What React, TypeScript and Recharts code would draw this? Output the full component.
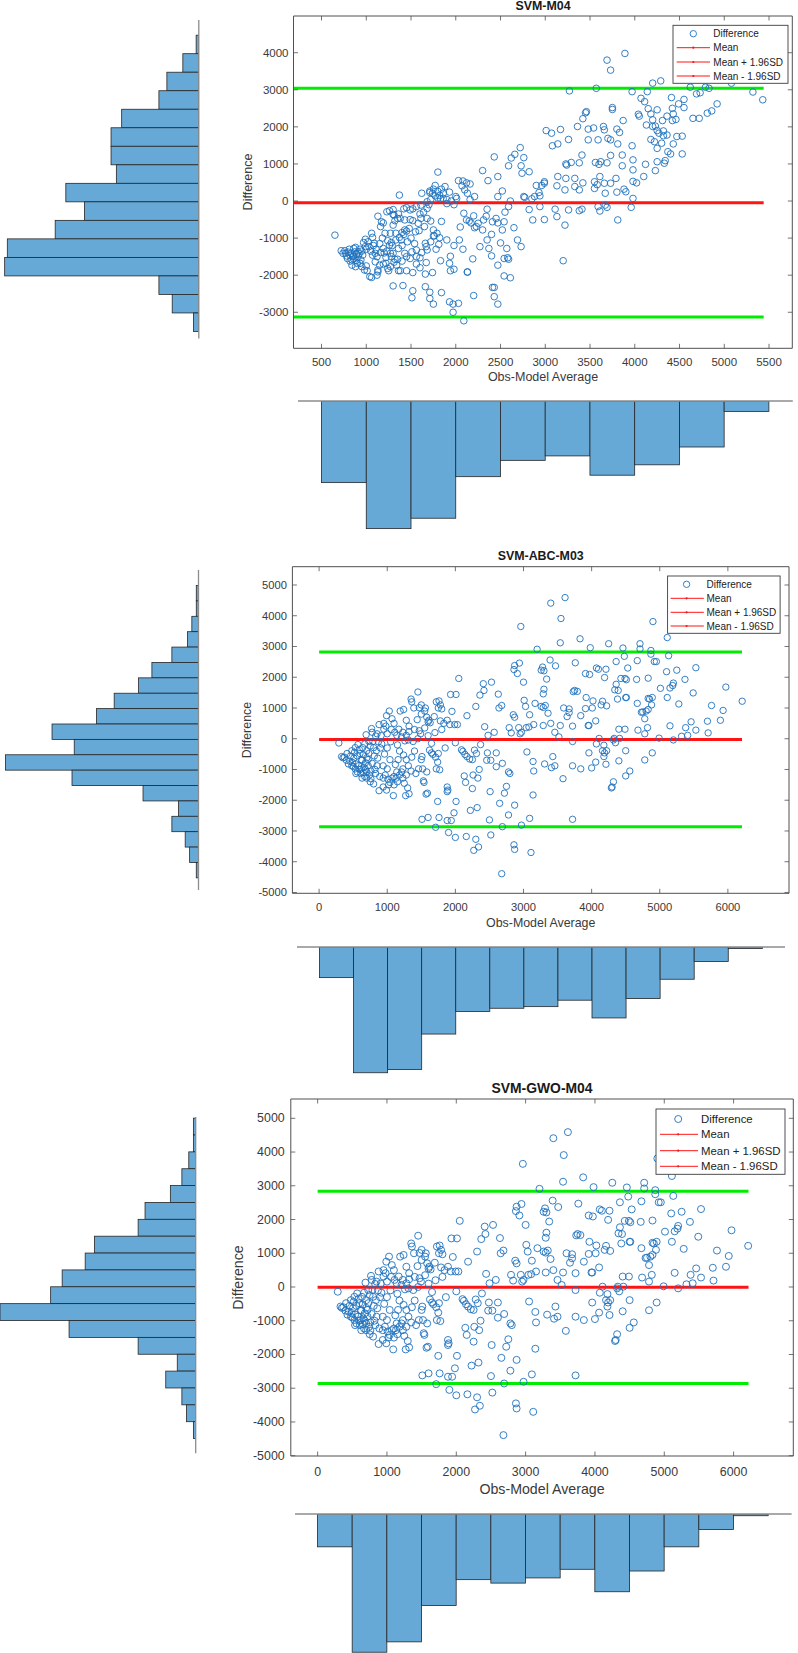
import React from 'react';
import { ScatterChart, Scatter, XAxis, YAxis, ReferenceLine, BarChart, Bar } from 'recharts';

type Pt = [number, number];

const FONT = '"Liberation Sans", Arial, Helvetica, sans-serif';
const TEXT = '#3a3a3a';
const BOX = '#505050';
const BLUE = '#1f72bd';
const GREEN = '#00ec00';
const RED = '#ff1414';
const HIST_FILL = '#66a9d7';
const HIST_EDGE = '#262626';
const HIST_AXIS = '#8c8c8c';

const TITLES = ['SVM-M04', 'SVM-ABC-M03', 'SVM-GWO-M04'];
const X_LABEL = 'Obs-Model Average';
const Y_LABEL = 'Difference';
const LEGEND_LABELS = ['Difference', 'Mean', 'Mean + 1.96SD', 'Mean - 1.96SD'];

// Bland-Altman points: [obs-model average, difference]
const svmM04Points: Pt[] = [
  [3890,3980],[3690,3800],[3730,3530],[3270,2970],[3570,3040],[3970,2950],[4200,3180],[4290,3240],[4140,2950],[4620,3070],
  [4790,3070],[4830,3040],[5080,3180],[5320,2940],[5430,2730],[4070,2770],[4110,2680],[4150,2490],[4250,2460],[4410,2790],
  [4490,2620],[4550,2740],[4690,2890],[4730,2920],[4420,2500],[4550,2520],[4360,2290],[4430,2350],[4460,2200],[4420,2170],
  [4650,2230],[4720,2230],[4920,2620],[4860,2430],[4810,2370],[4310,2170],[4200,2190],[4180,2350],[4040,2340],[4050,2290],
  [4130,2050],[4200,2010],[4230,2020],[4250,1900],[4270,1830],[4320,1890],[4360,1780],[4320,1760],[4470,1740],[4530,1750],
  [4180,1660],[4220,1600],[4250,1420],[4300,1560],[4430,1540],[4370,1330],[4400,1270],[4530,1270],[4340,1090],[4250,1060],
  [4330,1020],[4230,820],[4120,990],[4100,660],[4020,490],[3980,530],[3980,840],[3980,1110],[3970,1490],[3980,70],
  [3960,-170],[3900,250],[3880,320],[3800,1940],[3830,1850],[3870,2170],[3750,2520],[3750,2470],[3450,2380],[3460,2410],
  [3420,2220],[3360,2010],[3540,1970],[3480,1940],[3650,2010],[3660,1920],[3700,1690],[3730,1650],[3810,1540],[3590,1650],
  [3480,1650],[3260,1660],[3170,1930],[3070,1830],[3010,1900],[3080,1490],[3140,1540],[3410,1240],[3730,1230],[3860,1240],
  [3560,1040],[3620,1060],[3690,1030],[3600,990],[3380,1030],[3290,1040],[3240,970],[3230,1000],[3860,950],[3790,610],
  [3730,480],[3610,660],[3550,520],[3580,440],[3660,480],[3550,340],[3670,210],[3800,240],[3420,490],[3330,610],
  [3330,390],[3380,300],[3230,610],[3140,660],[3130,410],[3220,300],[2990,480],[2990,520],[2960,420],[2930,230],
  [2940,140],[2880,120],[2850,60],[2770,100],[2900,420],[3260,-240],[3130,-420],[3220,-650],[3110,-220],[3410,-220],
  [3380,-260],[3690,-170],[3610,-270],[3670,-110],[3590,-150],[3810,-510],[3200,-1610],[2990,-500],[2860,-510],[2940,-150],
  [2820,-230],[2760,120],[2720,1440],[2730,950],[2760,1170],[2740,750],[2820,790],[2660,1260],[2620,1160],[2590,950],
  [2430,1190],[2300,820],[2360,550],[2470,660],[2520,270],[2470,120],[2610,0],[2590,-150],[2350,-220],[2340,-410],
  [2310,-510],[2410,-560],[2450,-470],[2520,-780],[2470,-590],[2540,-560],[2650,-720],[2500,-1130],[2350,-1050],[2370,-1280],
  [2270,-1230],[2300,-780],[2690,-1050],[2730,-1230],[2570,-1280],[2580,-1530],[2540,-1550],[2590,-1570],[2400,-1480],[2470,-1730],
  [2540,-2020],[2610,-2070],[2410,-2330],[2430,-2330],[2430,-2580],[2470,-2780],[2200,-2550],[2190,-1560],[2130,-1910],[2040,-1050],
  [2080,-1300],[2090,-330],[2120,-510],[2150,-540],[2170,-590],[2210,-720],[2230,-690],[2160,40],[2210,120],[2130,210],
  [2100,300],[2070,410],[2120,490],[2160,460],[2080,540],[2030,550],[2000,120],[2010,70],[1900,-70],[1930,240],
  [1880,390],[1840,320],[1800,260],[1770,420],[1740,210],[1710,230],[1770,140],[1800,80],[1830,60],[1860,70],
  [1800,780],[1710,270],[1620,210],[1680,-20],[1610,-110],[1560,-150],[1680,-200],[1520,-210],[1370,160],[1680,-470],
  [1720,-540],[1610,-470],[1650,-690],[1590,-800],[1520,-530],[1490,-500],[1430,-510],[1380,-470],[1360,-350],[1310,-380],
  [1260,-260],[1230,-290],[1300,-230],[1420,-210],[1450,-180],[1490,-240],[1400,-850],[1370,-980],[1430,-780],[1450,-810],
  [1480,-740],[1550,-830],[1750,-780],[1790,-870],[1760,-940],[1820,-990],[1840,-550],[1810,-1170],[1750,-940],[1660,-1140],
  [1720,-1100],[1670,-1230],[1680,-1320],[1560,-1320],[1620,-1390],[1560,-1500],[1600,-1530],[1510,-1370],[1490,-1550],[1430,-1410],
  [1360,-1280],[1290,-1200],[1270,-1410],[1320,-1570],[1360,-1880],[1380,-1880],[1450,-1880],[1520,-1930],[1410,-2280],[1300,-2290],
  [1520,-2420],[1510,-2610],[1660,-2310],[1710,-2460],[1750,-2780],[1710,-2630],[1840,-2470],[1740,-1930],[1660,-1970],[1670,-1660],
  [1830,-1610],[1940,-1490],[1930,-1680],[1940,-1880],[1980,-1840],[2130,-1920],[1930,-2720],[1970,-3000],[1970,-2780],[2030,-2760],
  [2090,-3230],[650,-920],[720,-1340],[740,-1410],[770,-1410],[820,-1460],[790,-1550],[840,-1590],[850,-1500],[870,-1370],
  [890,-1430],[900,-1680],[880,-1770],[910,-1500],[860,-1280],[930,-1300],[950,-1770],[990,-1230],[980,-1860],[990,-1030],
  [1020,-1100],[1030,-1230],[1010,-1880],[1040,-2040],[1060,-2060],[1060,-870],[1070,-980],[1090,-1140],[1100,-1410],[1070,-1460],
  [1100,-1640],[1110,-1300],[1150,-1730],[1130,-1910],[1120,-2000],[1130,-1860],[1160,-1390],[1130,-410],[1170,-560],[1160,-690],
  [1190,-590],[1210,-870],[1190,-1280],[1220,-1520],[1220,-1680],[1240,-1820],[1190,-1700],[1250,-1880],[1270,-1770],[1240,-1070],
  [1260,-1190],[1280,-1120],[1270,-870],[1300,-1410],[1340,-1730],[1350,-1570],[1330,-1050],[1330,-870],[1300,-650],[1300,-360],
  [1320,-530],[1350,-470],[760,-1340],[810,-1300],[830,-1410],[860,-1480],[880,-1250],[910,-1370],[840,-1730],[940,-1590],
  [960,-1460],[930,-1680],[1000,-1750],[780,-1480],[800,-1380],[820,-1620],[860,-1560],[890,-1600],[920,-1420],[950,-1350],
  [970,-1120],[1000,-1300],[1050,-1350],[1080,-1200],[1120,-1500],[1150,-1150],[1180,-1000],[1200,-1400],[1230,-1350],[1280,-1500],
  [1310,-1650],[1390,-1050],[1400,-1200],[1420,-900],[1460,-1100],[1500,-1000],[1540,-1150],[1580,-600],[1600,-350],[1640,-300],
  [1700,-100],[1720,40],[1750,320],[1820,150],[1860,210],[1900,40],[1950,0],[1980,-100],[1560,-1700],[1600,-1800],
  [1400,-1620],[1450,-1500],[1780,-1300],[1900,-1050],[1980,-1200],[2050,-700],[2200,-400],[2250,-600],[2400,-900],[2550,-300],
];

// The ABC and GWO models share this point cloud
const svmAbcPoints: Pt[] = [
  [3610,4590],[3400,4410],[3550,3910],[2960,3650],[4900,3810],[5110,3290],[3540,3120],[3830,3250],[3980,2960],[4250,3090],
  [4460,2950],[4710,3090],[4870,2870],[4870,2750],[4710,2920],[5130,2700],[4920,2510],[4670,2540],[4480,2680],[4360,2510],
  [3200,2910],[3390,2560],[3280,2330],[3300,2210],[3470,2370],[3260,2230],[3760,2470],[2870,2380],[2940,2460],[2910,2120],
  [2860,2250],[3000,1840],[3340,1940],[3910,2120],[3970,2090],[4070,2300],[4100,2260],[4210,2260],[4190,1990],[4430,1960],
  [4490,1960],[4510,1920],[4530,2300],[4660,1930],[4830,1970],[4950,2510],[5100,2180],[5250,2230],[5530,2310],[5370,1930],
  [5200,1810],[5190,1730],[5010,1640],[5150,1650],[5490,1490],[5970,1680],[4360,1770],[4390,1570],[4340,1590],[4500,1340],
  [5110,1340],[5280,1130],[6210,1220],[5760,1080],[5930,920],[5700,570],[5890,600],[5460,550],[5380,360],[5530,280],
  [5710,190],[5410,110],[5320,80],[4990,20],[5200,-40],[5150,420],[4890,-460],[4780,-690],[4820,360],[4780,160],
  [4680,280],[4780,650],[4800,900],[4750,870],[4830,950],[4850,1290],[4830,1310],[4880,1100],[4890,1340],[4670,1150],
  [4730,860],[4510,1340],[4380,1290],[4160,1220],[4220,1070],[4140,1100],[4020,1230],[3920,1340],[4060,580],[3960,430],
  [4400,310],[4490,310],[4330,10],[4350,-130],[4410,10],[4320,-40],[4110,10],[4070,-170],[4180,-210],[4160,-390],
  [4190,-460],[4220,-390],[4180,-580],[4210,-830],[4500,-390],[4400,-720],[4500,-1210],[4560,-1050],[4320,-1400],[4300,-1570],
  [4290,-1600],[4000,-950],[3960,-460],[4060,-760],[3720,-90],[3720,-880],[3840,-980],[3580,-1300],[3720,-2620],[3430,-580],
  [3460,-880],[3410,-940],[3310,-820],[3140,-740],[3150,-1050],[3140,-1830],[3050,-430],[2970,-2810],[3090,-2590],[3110,-3700],
  [2870,-3600],[2860,-3450],[2680,-4390],[2690,-2860],[2780,-2480],[2870,-2160],[2650,-2100],[2720,-1770],[2750,-1550],[2780,-1080],
  [2800,-1130],[2690,-800],[2600,-910],[2520,-700],[2460,-700],[2470,-460],[2600,-460],[2350,-1000],[2330,-1280],[2260,-1180],
  [2130,-1210],[2150,-1420],[2250,-1620],[2510,-1720],[2220,-2330],[2320,-2240],[2160,-3180],[2300,-3270],[2340,-3520],[2270,-3630],
  [2520,-3130],[2500,-2640],[2000,-3210],[1900,-3050],[1940,-2660],[1980,-2410],[2010,-2040],[1880,-2660],[1760,-2560],[1710,-2880],
  [1600,-2560],[1510,-2620],[1740,-2040],[1880,-1570],[1890,-1670],[1880,-1720],[1570,-1800],[1590,-1770],[1540,-1420],[1530,-1370],
  [1580,-1080],[1520,-980],[1460,-980],[1420,-1130],[1310,-880],[1360,-600],[1510,-580],[1500,-680],[1720,-980],[1770,-1010],
  [1740,-760],[1710,-600],[1750,-480],[1620,-370],[1650,-460],[1670,-510],[2000,-130],[2090,-360],[2110,-410],[2140,-510],
  [2170,-580],[2210,-660],[2250,-680],[2280,-370],[2310,-480],[2370,-190],[1320,-1790],[1270,-1850],[1090,-1850],[990,-1670],
  [940,-1570],[880,-1690],[800,-1470],[750,-1400],[890,-1230],[940,-1280],[970,-1180],[1010,-1320],[1040,-1420],[1070,-1280],
  [1100,-1230],[1130,-1280],[1140,-1080],[1180,-1180],[1210,-1080],[1230,-1280],[1280,-1180],[1230,-980],[1280,-680],[1240,-530],
  [1160,-680],[1120,-840],[1040,-680],[1000,-980],[940,-880],[850,-880],[830,-1130],[740,-1180],[700,-1080],[670,-1230],
  [630,-1280],[610,-1130],[560,-1080],[530,-980],[580,-880],[620,-980],[660,-930],[680,-780],[720,-680],[730,-480],
  [700,-390],[640,-290],[670,-170],[690,130],[730,-90],[750,-240],[800,-290],[840,-390],[790,-90],[830,90],
  [780,210],[770,330],[850,160],[880,460],[950,500],[980,410],[950,310],[920,-170],[1000,160],[990,750],
  [1030,900],[1070,650],[1110,210],[1140,110],[1170,310],[1210,60],[1230,210],[1280,110],[1320,230],[1310,-40],
  [1260,-70],[1380,-90],[1190,900],[1240,950],[1280,600],[1320,410],[1350,1290],[1360,1200],[1390,1000],[1450,1520],
  [1470,1010],[1440,620],[1500,800],[1470,260],[1490,160],[1500,1100],[1550,900],[1560,1000],[1580,700],[1610,600],
  [1630,520],[1600,550],[1720,1200],[1760,1230],[1780,1100],[1800,970],[1750,1000],[1780,580],[1690,720],[1830,500],
  [1880,600],[1920,460],[1950,890],[1930,1440],[2010,1440],[1990,460],[2030,460],[2050,1960],[2170,750],[2300,1050],
  [2360,1420],[2420,1570],[2410,1790],[2530,1840],[2430,390],[2480,110],[2570,210],[2630,1450],[2640,1000],[2680,1080],
  [2790,360],[2820,190],[2850,780],[2870,700],[2930,360],[2950,160],[2970,210],[3010,1250],[3030,1050],[3090,780],
  [3040,360],[3080,380],[3150,460],[3170,1150],[3260,1050],[3290,430],[3290,1020],[3320,1080],[3360,830],[3300,1610],
  [3290,1460],[3400,500],[3460,210],[3540,430],[3520,60],[3590,1000],[3670,970],[3640,720],[3670,850],[3720,410],
  [3730,1530],[3750,1570],[3790,1540],[3840,750],[3910,980],[3950,430],[4010,1000],[290,-140],[330,-580],[370,-600],
  [410,-480],[450,-730],[480,-880],[510,-630],[520,-440],[480,-390],[530,-290],[570,-190],[600,-480],[620,-680],
  [350,-620],[400,-700],[430,-820],[460,-560],[490,-770],[540,-820],[560,-560],[590,-350],[630,-700],[650,-520],
  [680,-1000],[700,-620],[720,-880],[760,-1050],[780,-800],[810,-560],[600,-1000],[540,-1130],[500,-900],[650,-1100],
  [700,-1280],[760,-1300],[820,-1000],[860,-630],[900,-300],[870,-100],[910,100],[960,-500],[1000,-300],[1050,-100],
  [1060,300],[1100,500],[1150,-200],[1180,-400],[1020,-1500],[1100,-1500],[1150,-1400],[1250,-1450],[1300,-1600],[1350,-1050],
  [1400,-400],[1450,0],[1400,300],[1550,350],[1600,100],[1650,-150],[1700,200],[1800,300],[1850,-300],
];

// Mean and 95% limits of agreement
const svmM04Limits = { mean: -45, upper: 3040, lower: -3130 };
const svmAbcLimits = { mean: -22, upper: 2820, lower: -2865 };
const svmGwoLimits = { mean: -10, upper: 2840, lower: -2860 };

// Axis ticks
const xTicksM04 = [500, 1000, 1500, 2000, 2500, 3000, 3500, 4000, 4500, 5000, 5500];
const yTicksM04 = [-3000, -2000, -1000, 0, 1000, 2000, 3000, 4000];
const xTicksWide = [0, 1000, 2000, 3000, 4000, 5000, 6000];
const yTicksWide = [-5000, -4000, -3000, -2000, -1000, 0, 1000, 2000, 3000, 4000, 5000];

// Marginal histograms (bin centres and counts)
const m04AvgBins = [750, 1250, 1750, 2250, 2750, 3250, 3750, 4250, 4750, 5250];
const m04AvgCounts = [55, 86, 79, 51, 40, 37, 50, 43, 31, 7];
const m04DiffBins = [4250, 3750, 3250, 2750, 2250, 1750, 1250, 750, 250, -250, -750, -1250, -1750, -2250, -2750, -3250];
const m04DiffCounts = [1, 6, 12, 15, 29, 33, 33, 31, 50, 43, 54, 72, 73, 15, 10, 2];

const wideAvgBins = [250, 750, 1250, 1750, 2250, 2750, 3250, 3750, 4250, 4750, 5250, 5750, 6250];
const wideDiffBins = [4750, 4250, 3750, 3250, 2750, 2250, 1750, 1250, 750, 250, -250, -750, -1250, -1750, -2250, -2750, -3250, -3750, -4250];

const abcAvgCounts = [19, 78, 76, 54, 40, 38, 37, 33, 44, 32, 20, 9, 1];
const abcDiffCounts = [1, 1, 3, 5, 12, 21, 27, 38, 46, 66, 56, 87, 57, 25, 9, 12, 6, 4, 1];
const gwoAvgCounts = [19, 80, 74, 53, 38, 40, 37, 32, 45, 33, 19, 9, 1];
const gwoDiffCounts = [1, 1, 3, 6, 11, 22, 25, 44, 48, 58, 63, 85, 55, 25, 8, 13, 6, 4, 1];

const BIN_WIDTH = 500;

interface Box { left: number; top: number; right: number; bottom: number }
interface ScatterCfg {
  chart: { left: number; top: number; width: number; height: number };
  box: Box;
  points: Pt[];
  limits: { mean: number; upper: number; lower: number };
  lineFrom: number;
  lineTo: number;
  xDomain: [number, number];
  yDomain: [number, number];
  xTicks: number[];
  yTicks: number[];
  tickFont: number;
  gapX: number;
  gapY: number;
  radius: number;
}

const TICK_LEN = 4.5;
// thickness reserved by the top / right frame axes (recharts skips zero-size axes)
const FRAME_AXIS = 1;

const tickText = (fontSize: number) => ({ fontSize, fontFamily: FONT, fill: TEXT });

function ScatterPanel({ cfg }: { cfg: ScatterCfg }) {
  const { chart, box } = cfg;
  const yAxisWidth = box.left - chart.left;
  const marginRight = chart.left + chart.width - box.right - FRAME_AXIS;
  const marginTop = box.top - chart.top - FRAME_AXIS;
  const xAxisHeight = chart.top + chart.height - box.bottom;
  const data = cfg.points.map(([x, y]) => ({ x, y }));
  const tf = tickText(cfg.tickFont);

  const bottomTick = (p: any) => {
    const axisY = p.y - cfg.gapX;
    return (
      <g>
        <line x1={p.x} x2={p.x} y1={axisY} y2={axisY - TICK_LEN} stroke={BOX} strokeWidth={0.8} />
        <text x={p.x} y={p.y} textAnchor="middle" dominantBaseline="central" {...tf}>{p.payload.value}</text>
      </g>
    );
  };
  const topTick = (p: any) => (
    <line x1={p.x} x2={p.x} y1={p.y} y2={p.y + TICK_LEN} stroke={BOX} strokeWidth={0.8} />
  );
  const leftTick = (p: any) => {
    const axisX = p.x + cfg.gapY;
    return (
      <g>
        <line x1={axisX} x2={axisX + TICK_LEN} y1={p.y} y2={p.y} stroke={BOX} strokeWidth={0.8} />
        <text x={p.x} y={p.y} textAnchor="end" dominantBaseline="central" {...tf}>{p.payload.value}</text>
      </g>
    );
  };
  const rightTick = (p: any) => (
    <line x1={p.x} x2={p.x - TICK_LEN} y1={p.y} y2={p.y} stroke={BOX} strokeWidth={0.8} />
  );
  const circle = (p: any) => (
    <circle cx={p.cx} cy={p.cy} r={cfg.radius} fill="none" stroke={BLUE} strokeWidth={0.9} />
  );
  const seg = (y: number) => [{ x: cfg.lineFrom, y }, { x: cfg.lineTo, y }];

  return (
    <div style={{ position: 'absolute', left: chart.left, top: chart.top }}>
      <ScatterChart width={chart.width} height={chart.height}
        margin={{ top: marginTop, right: marginRight, bottom: 0, left: 0 }}>
        <XAxis xAxisId="b" type="number" dataKey="x" domain={cfg.xDomain} ticks={cfg.xTicks} interval={0}
          orientation="bottom" height={xAxisHeight} tickSize={0} tickMargin={cfg.gapX} tick={bottomTick}
          tickLine={false} axisLine={{ stroke: BOX, strokeWidth: 1 }} allowDataOverflow />
        <XAxis xAxisId="t" type="number" dataKey="x" domain={cfg.xDomain} ticks={cfg.xTicks} interval={0}
          orientation="top" height={FRAME_AXIS} tickSize={0} tickMargin={0} tick={topTick}
          tickLine={false} axisLine={{ stroke: BOX, strokeWidth: 1 }} allowDataOverflow />
        <YAxis yAxisId="l" type="number" dataKey="y" domain={cfg.yDomain} ticks={cfg.yTicks} interval={0}
          orientation="left" width={yAxisWidth} tickSize={0} tickMargin={cfg.gapY} tick={leftTick}
          tickLine={false} axisLine={{ stroke: BOX, strokeWidth: 1 }} allowDataOverflow />
        <YAxis yAxisId="r" type="number" dataKey="y" domain={cfg.yDomain} ticks={cfg.yTicks} interval={0}
          orientation="right" width={FRAME_AXIS} tickSize={0} tickMargin={0} tick={rightTick}
          tickLine={false} axisLine={{ stroke: BOX, strokeWidth: 1 }} allowDataOverflow />
        <ReferenceLine xAxisId="b" yAxisId="l" segment={seg(cfg.limits.upper)} stroke={GREEN} strokeWidth={3} ifOverflow="visible" />
        <ReferenceLine xAxisId="b" yAxisId="l" segment={seg(cfg.limits.lower)} stroke={GREEN} strokeWidth={3} ifOverflow="visible" />
        <ReferenceLine xAxisId="b" yAxisId="l" segment={seg(cfg.limits.mean)} stroke={RED} strokeWidth={3} ifOverflow="visible" />
        <Scatter xAxisId="b" yAxisId="l" data={data} shape={circle} isAnimationActive={false} />
      </ScatterChart>
    </div>
  );
}

interface BottomHistCfg {
  baseY: number; left: number; right: number; height: number;
  xDomain: [number, number]; yMax: number; bins: number[]; counts: number[];
}

function BottomHist({ cfg }: { cfg: BottomHistCfg }) {
  const pad = 2;
  const width = cfg.right - cfg.left;
  const binPx = BIN_WIDTH * width / (cfg.xDomain[1] - cfg.xDomain[0]);
  const data = cfg.bins.map((b, i) => ({ bin: b, n: cfg.counts[i] }));
  const shape = (p: any) => {
    const cx = p.x + p.width / 2;
    const y0 = Math.min(p.y, p.y + p.height);
    return <rect x={cx - binPx / 2} y={y0} width={binPx} height={Math.abs(p.height)}
      fill={HIST_FILL} stroke={HIST_EDGE} strokeWidth={0.8} />;
  };
  return (
    <div style={{ position: 'absolute', left: cfg.left - pad, top: cfg.baseY - pad }}>
      <BarChart width={width + 2 * pad} height={cfg.height + 2 * pad} data={data}
        margin={{ top: pad - FRAME_AXIS, right: pad, bottom: pad, left: pad }}>
        <XAxis type="number" dataKey="bin" domain={cfg.xDomain} orientation="top" height={FRAME_AXIS}
          tick={false} tickLine={false} axisLine={{ stroke: HIST_AXIS, strokeWidth: 1.3 }} allowDataOverflow />
        <YAxis type="number" domain={[0, cfg.yMax]} reversed hide allowDataOverflow />
        <Bar dataKey="n" barSize={binPx * 0.5} shape={shape} isAnimationActive={false} />
      </BarChart>
    </div>
  );
}

interface LeftHistCfg {
  baseX: number; top: number; bottom: number; width: number;
  yDomain: [number, number]; xMax: number; bins: number[]; counts: number[];
}

function LeftHist({ cfg }: { cfg: LeftHistCfg }) {
  const pad = 2;
  const height = cfg.bottom - cfg.top;
  const binPx = BIN_WIDTH * height / (cfg.yDomain[1] - cfg.yDomain[0]);
  const data = cfg.bins.map((b, i) => ({ bin: b, n: cfg.counts[i] }));
  const shape = (p: any) => {
    const cy = p.y + p.height / 2;
    const x0 = Math.min(p.x, p.x + p.width);
    return <rect x={x0} y={cy - binPx / 2} width={Math.abs(p.width)} height={binPx}
      fill={HIST_FILL} stroke={HIST_EDGE} strokeWidth={0.8} />;
  };
  return (
    <div style={{ position: 'absolute', left: cfg.baseX - cfg.width - pad, top: cfg.top - pad }}>
      <BarChart layout="vertical" width={cfg.width + 2 * pad} height={height + 2 * pad} data={data}
        margin={{ top: pad, right: pad - FRAME_AXIS, bottom: pad, left: pad }}>
        <XAxis type="number" domain={[0, cfg.xMax]} reversed hide allowDataOverflow />
        <YAxis type="number" dataKey="bin" domain={cfg.yDomain} reversed orientation="right" width={FRAME_AXIS}
          tick={false} tickLine={false} axisLine={{ stroke: HIST_AXIS, strokeWidth: 1.3 }} allowDataOverflow />
        <Bar dataKey="n" barSize={binPx * 0.5} shape={shape} isAnimationActive={false} />
      </BarChart>
    </div>
  );
}

interface TextCfg {
  title: string; titleX: number; titleY: number; titleFont: number;
  yLabelX: number; yLabelY: number; xLabelX: number; xLabelY: number; labelFont: number;
  legend: { left: number; top: number; right: number; bottom: number; lineX1: number; lineX2: number;
    markX: number; textX: number; rows: number[]; font: number; r: number };
}

function PanelText({ t }: { t: TextCfg }) {
  const lg = t.legend;
  return (
    <g fontFamily={FONT}>
      <text x={t.titleX} y={t.titleY} textAnchor="middle" dominantBaseline="central" fontWeight="bold"
        fontSize={t.titleFont} fill="#1a1a1a">{t.title}</text>
      <text x={t.xLabelX} y={t.xLabelY} textAnchor="middle" dominantBaseline="central"
        fontSize={t.labelFont} fill={TEXT}>{X_LABEL}</text>
      <text x={t.yLabelX} y={t.yLabelY} textAnchor="middle" dominantBaseline="central"
        fontSize={t.labelFont} fill={TEXT} transform={`rotate(-90 ${t.yLabelX} ${t.yLabelY})`}>{Y_LABEL}</text>
      <rect x={lg.left} y={lg.top} width={lg.right - lg.left} height={lg.bottom - lg.top}
        fill="#ffffff" stroke="#3c3c3c" strokeWidth={0.9} />
      {LEGEND_LABELS.map((label, i) => (
        <g key={label}>
          {i === 0 ? (
            <circle cx={lg.markX} cy={lg.rows[i]} r={lg.r} fill="none" stroke={BLUE} strokeWidth={0.9} />
          ) : (
            <g>
              <line x1={lg.lineX1} x2={lg.lineX2} y1={lg.rows[i]} y2={lg.rows[i]} stroke={RED} strokeWidth={1} />
              <circle cx={lg.markX} cy={lg.rows[i]} r={1.1} fill={RED} />
            </g>
          )}
          <text x={lg.textX} y={lg.rows[i]} dominantBaseline="central" fontSize={lg.font} fill="#222">{label}</text>
        </g>
      ))}
    </g>
  );
}

const scatterConfigs: ScatterCfg[] = [
  {
    chart: { left: 230, top: 0, width: 568, height: 380 },
    box: { left: 293.5, top: 16, right: 792.3, bottom: 348.3 },
    points: svmM04Points, limits: svmM04Limits, lineFrom: 187, lineTo: 5440,
    xDomain: [187, 5760], yDomain: [-3972, 4990], xTicks: xTicksM04, yTicks: yTicksM04,
    tickFont: 11.5, gapX: 13.4, gapY: 5, radius: 3.3,
  },
  {
    chart: { left: 230, top: 540, width: 568, height: 380 },
    box: { left: 292.4, top: 566.7, right: 789, bottom: 893.3 },
    points: svmAbcPoints, limits: svmAbcLimits, lineFrom: 0, lineTo: 6207,
    xDomain: [-392, 6897], yDomain: [-5027, 5595], xTicks: xTicksWide, yTicks: yTicksWide,
    tickFont: 11.2, gapX: 13.4, gapY: 5.4, radius: 3.2,
  },
  {
    chart: { left: 230, top: 1070, width: 568, height: 410 },
    box: { left: 290.8, top: 1099, right: 793.3, bottom: 1456 },
    points: svmAbcPoints, limits: svmGwoLimits, lineFrom: 0, lineTo: 6215,
    xDomain: [-387, 6861], yDomain: [-5009, 5572], xTicks: xTicksWide, yTicks: yTicksWide,
    tickFont: 12.4, gapX: 15.7, gapY: 6.1, radius: 3.5,
  },
];

const bottomHists: BottomHistCfg[] = [
  { baseY: 401, left: 297.8, right: 792.6, height: 148.4, xDomain: [235, 5765], yMax: 100, bins: m04AvgBins, counts: m04AvgCounts },
  { baseY: 947.3, left: 297.1, right: 785.1, height: 145.1, xDomain: [-323, 6840], yMax: 90, bins: wideAvgBins, counts: abcAvgCounts },
  { baseY: 1514, left: 295.4, right: 792, height: 155.5, xDomain: [-320, 6843], yMax: 90, bins: wideAvgBins, counts: gwoAvgCounts },
];

const leftHists: LeftHistCfg[] = [
  { baseX: 198.7, top: 19.7, bottom: 338.2, width: 196.8, yDomain: [-3700, 4900], xMax: 74, bins: m04DiffBins, counts: m04DiffCounts },
  { baseX: 198.7, top: 569.6, bottom: 889.6, width: 197.5, yDomain: [-4900, 5500], xMax: 89, bins: wideDiffBins, counts: abcDiffCounts },
  { baseX: 195.7, top: 1117, bottom: 1453.3, width: 195.7, yDomain: [-4930, 5040], xMax: 85, bins: wideDiffBins, counts: gwoDiffCounts },
];

const textConfigs: TextCfg[] = [
  {
    title: TITLES[0], titleX: 543, titleY: 6, titleFont: 12.4,
    yLabelX: 247.7, yLabelY: 182, xLabelX: 543, xLabelY: 377, labelFont: 12.5,
    legend: { left: 673, top: 25.3, right: 788, bottom: 83.3, lineX1: 676.7, lineX2: 710, markX: 693.3,
      textX: 713.3, rows: [33.7, 47.7, 62, 76], font: 10, r: 3.2 },
  },
  {
    title: TITLES[1], titleX: 540.7, titleY: 556, titleFont: 12.4,
    yLabelX: 246.6, yLabelY: 730, xLabelX: 540.7, xLabelY: 922.7, labelFont: 12.4,
    legend: { left: 667.6, top: 576, right: 780.1, bottom: 633.3, lineX1: 670.6, lineX2: 703.8, markX: 686.6,
      textX: 706.5, rows: [584.3, 598.3, 612.3, 626], font: 10, r: 3.2 },
  },
  {
    title: TITLES[2], titleX: 542, titleY: 1087.5, titleFont: 13.9,
    yLabelX: 238, yLabelY: 1277.5, xLabelX: 542, xLabelY: 1489, labelFont: 14.2,
    legend: { left: 656, top: 1109, right: 785, bottom: 1174.3, lineX1: 660, lineX2: 698, markX: 678.2,
      textX: 701, rows: [1119, 1134.3, 1150.7, 1166.3], font: 11.4, r: 3.5 },
  },
];

export default function App() {
  return (
    <div style={{ position: 'absolute', left: 0, top: 0, width: 798, height: 1653, background: '#ffffff', overflow: 'hidden' }}>
      {leftHists.map((c, i) => <LeftHist key={`l${i}`} cfg={c} />)}
      {bottomHists.map((c, i) => <BottomHist key={`b${i}`} cfg={c} />)}
      {scatterConfigs.map((c, i) => <ScatterPanel key={`s${i}`} cfg={c} />)}
      <svg width={798} height={1653} style={{ position: 'absolute', left: 0, top: 0, pointerEvents: 'none' }}>
        {textConfigs.map((t, i) => <PanelText key={`t${i}`} t={t} />)}
      </svg>
    </div>
  );
}
